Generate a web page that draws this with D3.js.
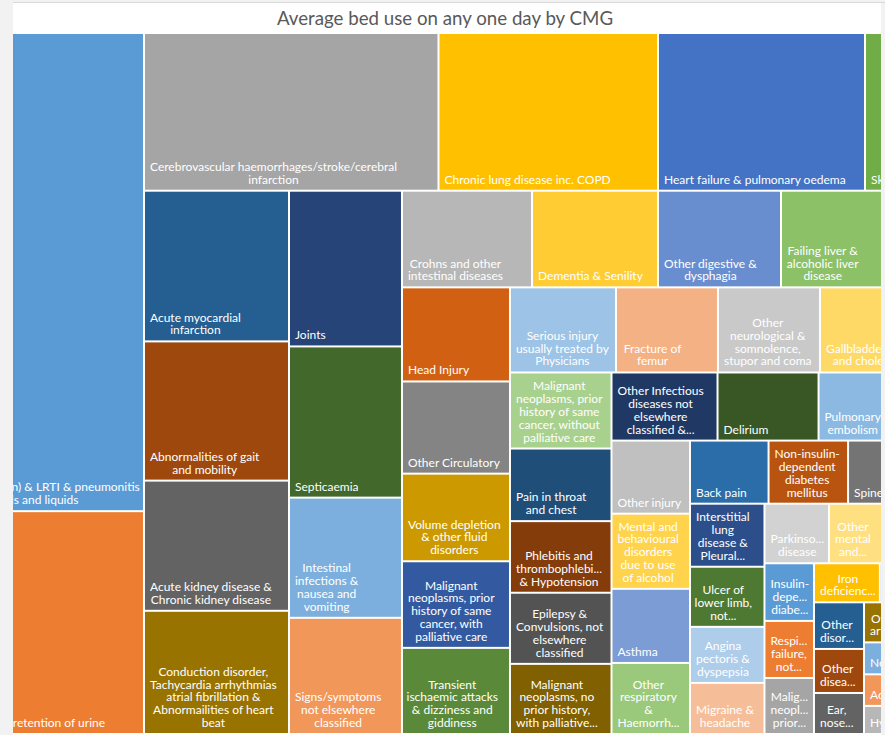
<!DOCTYPE html>
<html>
<head>
<meta charset="utf-8">
<script src="https://cdnjs.cloudflare.com/ajax/libs/d3/7.8.5/d3.min.js"></script>
<style>
  body { margin: 0; background: #f2f2f2; }
  svg { display: block; }
</style>
</head>
<body>
<svg id="chart" width="885" height="735"></svg>
<script>
// --------------------------------------------------------------------------------------
// data - average beds in use on any one day, by CMG (largest first)
// label line breaks follow the picture
// --------------------------------------------------------------------------------------
var title = "Average bed use on any one day by CMG";

var categories = [
  "Pneumonia (by infection) & LRTI & pneumonitis\ndue to solids and liquids",
  "Urinary tract infection, retention of urine",
  "Cerebrovascular haemorrhages/stroke/cerebral\ninfarction",
  "Chronic lung disease inc. COPD",
  "Heart failure & pulmonary oedema",
  "Skin infections",
  "Acute myocardial\ninfarction",
  "Abnormalities of gait\nand mobility",
  "Acute kidney disease &\nChronic kidney disease",
  "Conduction disorder,\nTachycardia  arrhythmias\natrial fibrillation &\nAbnormailities of heart\nbeat",
  "Joints",
  "Septicaemia",
  "Intestinal\ninfections &\nnausea and\nvomiting",
  "Signs/symptoms\nnot elsewhere\nclassified",
  "Crohns and other\nintestinal diseases",
  "Dementia & Senility",
  "Other digestive &\ndysphagia",
  "Failing liver &\nalcoholic liver\ndisease",
  "Cellulitis",
  "Head Injury",
  "Other Circulatory",
  "Volume depletion\n& other fluid\ndisorders",
  "Malignant\nneoplasms, prior\nhistory of same\ncancer, with\npalliative care",
  "Transient\nischaemic attacks\n& dizziness and\ngiddiness",
  "Serious injury\nusually treated by\nPhysicians",
  "Fracture of\nfemur",
  "Other\nneurological &\nsomnolence,\nstupor and coma",
  "Gallbladder disease\nand cholecystitis",
  "Syncope & collapse",
  "Malignant\nneoplasms, prior\nhistory of same\ncancer, without\npalliative care",
  "Pain in throat\nand chest",
  "Phlebitis and\nthrombophlebi...\n& Hypotension",
  "Epilepsy &\nConvulsions, not\nelsewhere\nclassified",
  "Malignant\nneoplasms, no\nprior history,\nwith palliative...",
  "Other Infectious\ndiseases not\nelsewhere\nclassified  &...",
  "Delirium",
  "Pulmonary\nembolism",
  "Falls",
  "Other injury",
  "Mental and\nbehavioural\ndisorders\ndue to use\nof alcohol",
  "Asthma",
  "Other\nrespiratory\n&\nHaemorrh...",
  "Back pain",
  "Non-insulin-\ndependent\ndiabetes\nmellitus",
  "Spine",
  "Anaemia",
  "Interstitial\nlung\ndisease &\nPleural...",
  "Ulcer of\nlower limb,\nnot...",
  "Angina\npectoris &\ndyspepsia",
  "Migraine &\nheadache",
  "Parkinso...\ndisease",
  "Other\nmental\nand...",
  "Hip pain",
  "Gastritis",
  "Insulin-\ndepe...\ndiabe...",
  "Respi...\nfailure,\nnot...",
  "Malig...\nneopl...\nprior...",
  "Iron\ndeficienc...",
  "Pancreatitis",
  "Gout",
  "Other\ndisor...",
  "Other\ndisea...",
  "Ear,\nnose...",
  "Other\narter...",
  "Hernia",
  "Hypokalaemia",
  "Neph...",
  "Adve...",
  "Hypo...",
  "Vertigo",
  "Dermatitis",
  "Hyponatraemia",
  "Sickle cell",
  "Eye disorders",
  "Poisoning"
];

var beds = [
  123.67, 57.63, 46.38, 34.57, 32.60, 22.05,
  21.82, 20.16, 18.85, 17.84,
  17.57, 17.06, 13.56, 13.11,
  12.55, 12.16, 11.87, 11.10, 10.52,
  10.15, 9.94, 9.45, 9.34, 9.29,
  9.01, 8.67, 8.67, 7.91, 7.82,
  7.71, 7.36, 7.26, 7.21, 7.11,
  7.21, 6.87, 6.39, 6.29,
  5.73, 5.89, 5.81, 5.57,
  4.95, 5.01, 4.98, 4.91,
  4.69, 4.47, 4.17, 3.80,
  3.84, 3.57, 3.45, 3.45,
  2.85, 2.82, 2.77,
  2.57, 2.46, 2.42,
  2.33, 2.20, 2.05,
  1.96, 1.84, 1.84,
  1.66, 1.64, 1.46,
  1.45, 1.40, 1.35, 1.35, 1.30, 1.29
];

// number of cells in each strip of the layout, and whether the strip is a column or a row
var strip_sizes = [2, 4, 4, 4, 5, 5, 5, 5, 4, 4, 4, 4, 4, 3, 3, 3, 3, 3, 3, 3];
var strip_dirs  = ["col", "row", "col", "col", "row", "col", "row", "col", "row", "col",
                   "row", "col", "row", "col", "row", "col", "row", "col", "col", "col"];

// --------------------------------------------------------------------------------------
// office chart palette : 6 accents x 9 luminance variants
// --------------------------------------------------------------------------------------
var accents = ["#5b9bd5", "#ed7d31", "#a5a5a5", "#ffc000", "#4472c4", "#70ad47"];
var variants = [[1, 0], [0.6, 0], [0.8, 0.2], [0.8, 0], [0.6, 0.4], [0.5, 0], [0.7, 0.3], [0.7, 0], [0.5, 0.5]];
var palette = [];
variants.forEach(function(v) {
  accents.forEach(function(a) {
    var c = d3.hsl(a);
    c.l = c.l * v[0] + v[1];
    palette.push(c.formatHex());
  });
});

// --------------------------------------------------------------------------------------
// strip tiling - each strip takes its share of the remaining rectangle
// --------------------------------------------------------------------------------------
function strip_tile(parent, x0, y0, x1, y1)
{
  var nodes = parent.children;
  var left = parent.value;
  var i = 0;

  strip_sizes.forEach(function(n, s) {
    var row = nodes.slice(i, i + n);
    if(row.length == 0)
      return;
    var sum = d3.sum(row, function(d) { return d.value; });
    var k = left ? sum / left : 0;
    var strip = { children: row, value: sum };

    if(strip_dirs[s] == "col") {
      var xm = x0 + (x1 - x0) * k;
      d3.treemapSlice(strip, x0, y0, xm, y1);
      x0 = xm;
    }
    else {
      var ym = y0 + (y1 - y0) * k;
      d3.treemapDice(strip, x0, y0, x1, ym);
      y0 = ym;
    }
    left -= sum;
    i += n;
  });
}

// --------------------------------------------------------------------------------------
var svg = d3.select("#chart");

// chart area (the treemap runs past both sides of it)
var area = { left: 13, right: 881, top: 3, bottom: 735 };
var tm = { x: -115, y: 33, width: 1120, height: 701 };

svg.append("rect")
   .attr("x", area.left)
   .attr("y", area.top)
   .attr("width", area.right - area.left)
   .attr("height", area.bottom - area.top)
   .style("fill", "white");

svg.append("line")
   .attr("x1", area.left)
   .attr("x2", 885)
   .attr("y1", 2.5)
   .attr("y2", 2.5)
   .style("stroke", "#d9d9d9");

// ==================================================
// title
svg.append("text")
   .attr("x", 445)
   .attr("y", 25)
   .attr("text-anchor", "middle")
   .style("font-family", "Lato, 'Open Sans', sans-serif")
   .style("font-size", "18.7px")
   .style("fill", "#595959")
   .text(title);

// ==================================================
svg.append("clipPath")
   .attr("id", "plot_clip")
   .append("rect")
   .attr("x", area.left)
   .attr("y", 0)
   .attr("width", area.right - area.left)
   .attr("height", area.bottom);

var data = categories.map(function(c, i) { return { name: c, value: beds[i], idx: i }; });

var root = d3.hierarchy({ children: data })
             .sum(function(d) { return d.value || 0; });

d3.treemap()
  .size([tm.width, tm.height])
  .tile(strip_tile)(root);

var plot = svg.append("g")
              .attr("clip-path", "url(#plot_clip)")
              .append("g")
              .attr("transform", "translate(" + tm.x + "," + tm.y + ")");

var cell = plot.selectAll(".cell")
               .data(root.leaves())
               .enter()
               .append("g")
               .attr("class", "cell");

cell.append("clipPath")
    .attr("id", function(d) { return "cell_clip" + d.data.idx; })
    .append("rect")
    .attr("x", function(d) { return d.x0 + 1; })
    .attr("y", function(d) { return d.y0 + 1; })
    .attr("width", function(d) { return Math.max(0, d.x1 - d.x0 - 2); })
    .attr("height", function(d) { return Math.max(0, d.y1 - d.y0 - 2); });

cell.append("rect")
    .attr("x", function(d) { return d.x0 + 1; })
    .attr("y", function(d) { return d.y0 + 1; })
    .attr("width", function(d) { return Math.max(0, d.x1 - d.x0 - 2); })
    .attr("height", function(d) { return Math.max(0, d.y1 - d.y0 - 2); })
    .style("fill", function(d) { return palette[d.data.idx % palette.length]; });

// ==================================================
// labels - bottom left block, lines centred on each other
// cells lying wholly outside the chart area get no label
var line_h = 12.8;

cell.filter(function(d) { return d.x0 + tm.x < area.right; })
    .each(function(d) {
  var lines = d.data.name.split("\n");
  var txt = d3.select(this)
              .append("text")
              .attr("clip-path", "url(#cell_clip" + d.data.idx + ")")
              .attr("text-anchor", "middle")
              .style("font-family", "Lato, 'Open Sans', sans-serif")
              .style("font-size", "12px")
              .style("fill", "white");

  var spans = lines.map(function(l) { return txt.append("tspan").text(l); });
  var block_w = d3.max(spans, function(s) { return s.node().getComputedTextLength(); });

  spans.forEach(function(s, i) {
    s.attr("x", d.x0 + 6 + block_w / 2)
     .attr("y", d.y1 - 7 - (lines.length - 1 - i) * line_h);
  });
});
</script>
</body>
</html>
